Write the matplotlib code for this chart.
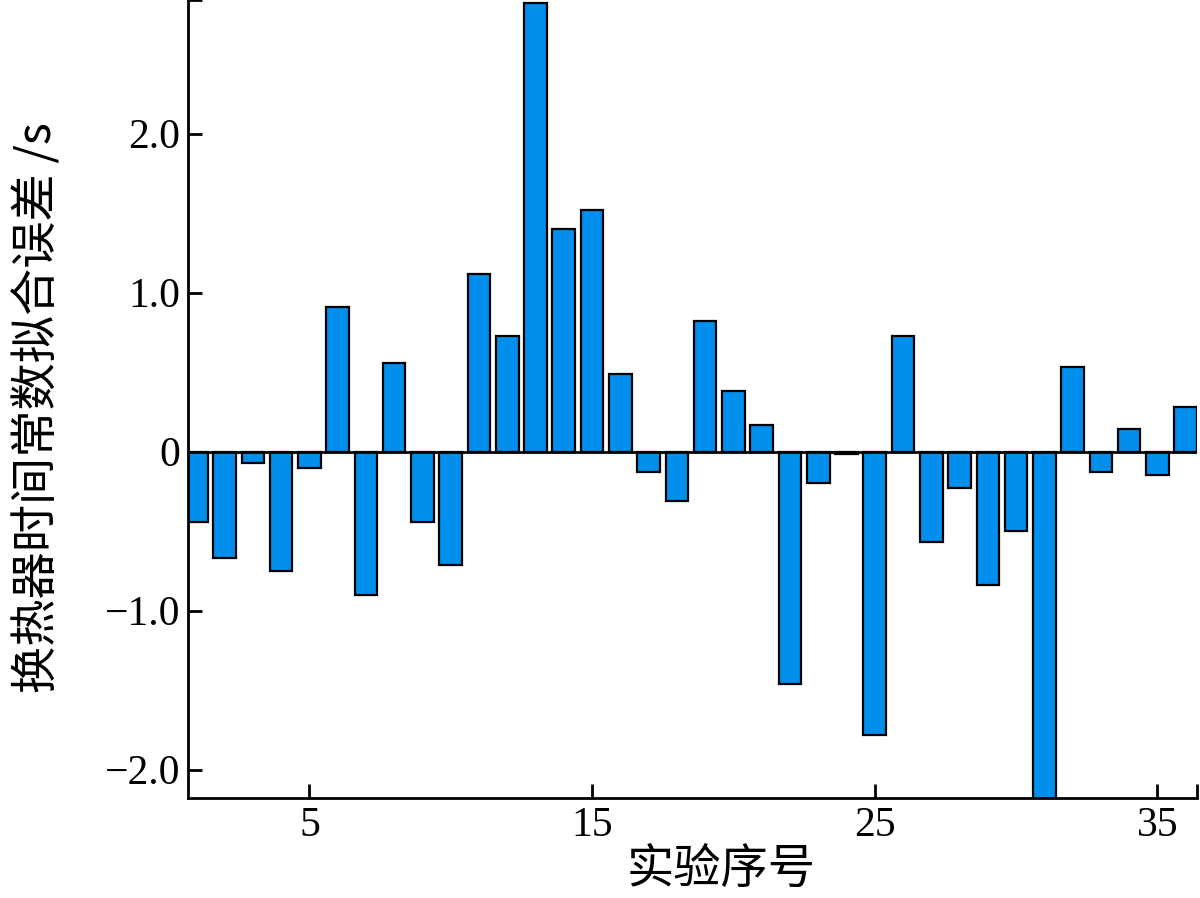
import matplotlib

matplotlib.use("Agg")
import matplotlib.pyplot as plt

# experiment index and fitting error of the heat-exchanger time constant (s)
runs = list(range(1, 37))
errors = [
    -0.44, -0.67, -0.07, -0.75, -0.10, 0.91, -0.90, 0.555, -0.445, -0.71,
    1.12, 0.725, 2.82, 1.40, 1.52, 0.49, -0.13, -0.31, 0.82, 0.38,
    0.165, -1.46, -0.195, -0.015, -1.78, 0.73, -0.57, -0.23, -0.84, -0.50,
    -2.30, 0.53, -0.13, 0.14, -0.15, 0.28,
]
xticks = [5, 15, 25, 35]
yticks = [-2.0, -1.0, 0.0, 1.0, 2.0]
ytick_labels = ["\u22122.0", "\u22121.0", "0", "1.0", "2.0"]

XLIM = (0.72, 36.4)
YLIM = (-2.18, 2.84)

cjk = ["Noto Sans CJK SC", "DejaVu Sans"]
serif = "Liberation Serif"

fig = plt.figure(figsize=(12, 8.98), dpi=100)
ax = fig.add_axes([0.157, 0.111, 0.8405, 0.889])

ax.bar(runs, errors, width=0.8, color="#008fec", edgecolor="black",
       linewidth=1.6, zorder=2)
ax.axhline(0, color="black", linewidth=2, zorder=3)

ax.set_xlim(*XLIM)
ax.set_ylim(*YLIM)

# the original draws small end caps at the far ends of both axes
ax.set_xticks(xticks + [XLIM[1]])
ax.set_xticklabels([str(t) for t in xticks] + [""], fontfamily=serif, fontsize=30)
ax.set_yticks(yticks + [YLIM[1]])
ax.set_yticklabels(ytick_labels + [""], fontfamily=serif, fontsize=30)
ax.tick_params(direction="in", length=10, width=2, pad=6)

for side in ("top", "right"):
    ax.spines[side].set_visible(False)
for side in ("left", "bottom"):
    ax.spines[side].set_linewidth(2)

ax.set_xlabel("实验序号", family=cjk, fontsize=34, labelpad=0)
ax.xaxis.label.set_x(0.528)
ax.set_ylabel("换热器时间常数拟合误差 /s", family=cjk, fontsize=34, labelpad=30)
ax.yaxis.label.set_y(0.49)

fig.savefig("out.png", dpi=100)
